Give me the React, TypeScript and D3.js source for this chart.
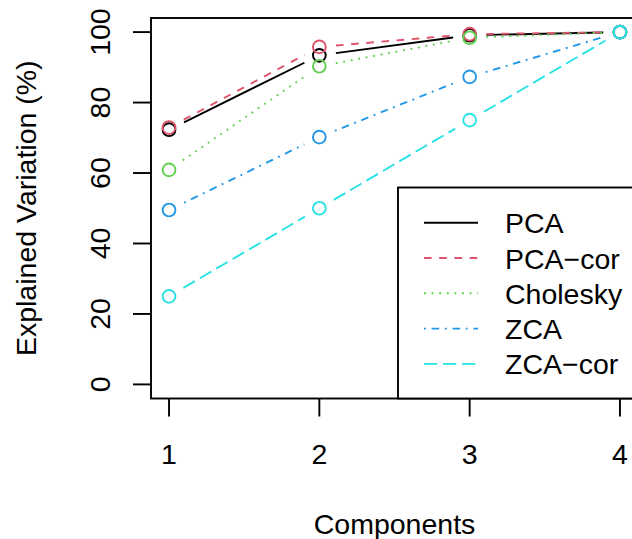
import * as d3 from 'd3';

const components = [1, 2, 3, 4];
const seriesNames = ['PCA', 'PCA−cor', 'Cholesky', 'ZCA', 'ZCA−cor'];
const pcaValues = [72.3, 93.4, 99.1, 100];
const pcaCorValues = [72.9, 95.8, 99.4, 100];
const choleskyValues = [60.9, 90.3, 98.4, 100];
const zcaValues = [49.5, 70.2, 87.3, 100];
const zcaCorValues = [25, 50, 75, 100];
const yTicks = [0, 20, 40, 60, 80, 100];

const COLORS = ['#000000', '#DF536B', '#61D04F', '#2297E6', '#28E2E5'];
const U = 1.9; // R line-width scale
const DASHES = [
  'none',
  `${4 * U},${4 * U}`,
  `${1 * U},${3 * U}`,
  `${1 * U},${3 * U},${4 * U},${3 * U}`,
  `${7 * U},${3 * U}`,
];

const W = 632, H = 539;
const FONT = '"Liberation Sans", Arial, Helvetica, sans-serif';
const FS = 28.5;

export default function App() {
  const series = [pcaValues, pcaCorValues, choleskyValues, zcaValues, zcaCorValues];

  const x = d3.scaleLinear().domain([0.88, 4.12]).range([151, 638]);
  const y = d3.scaleLinear().domain([-4, 104]).range([398.5, 18]);

  // type="b": leave a gap round each point
  const gap = 16.7;
  const segs = (vals: number[]) => {
    const out: { x1: number; y1: number; x2: number; y2: number }[] = [];
    for (let i = 0; i < vals.length - 1; i++) {
      const ax = x(components[i]), ay = y(vals[i]);
      const bx = x(components[i + 1]), by = y(vals[i + 1]);
      const len = Math.hypot(bx - ax, by - ay);
      if (len <= 2 * gap) continue;
      const ux = (bx - ax) / len, uy = (by - ay) / len;
      out.push({ x1: ax + ux * gap, y1: ay + uy * gap, x2: bx - ux * gap, y2: by - uy * gap });
    }
    return out;
  };

  const legLeft = 398, legTop = 187.5, legBottom = 398.5;
  const rowY = (i: number) => 222.7 + i * 35.3;
  const midY = (y(-4) + y(104)) / 2;

  return (
    <svg width={W} height={H} viewBox={`0 0 ${W} ${H}`}
      style={{ position: 'absolute', left: 0, top: 0, background: '#fff' }}
      fontFamily={FONT}>
      {/* series */}
      {series.map((vals, si) => (
        <g key={si}>
          {segs(vals).map((s, i) => (
            <line key={i} x1={s.x1} y1={s.y1} x2={s.x2} y2={s.y2}
              stroke={COLORS[si]} strokeWidth={U}
              strokeDasharray={DASHES[si]} />
          ))}
          {vals.map((v, i) => (
            <circle key={i} cx={x(components[i])} cy={y(v)} r={6.4}
              fill="none" stroke={COLORS[si]} strokeWidth={U} />
          ))}
        </g>
      ))}

      {/* plot box */}
      <rect x={x(0.88)} y={y(104)} width={x(4.12) - x(0.88)} height={y(-4) - y(104)}
        fill="none" stroke="#000" strokeWidth={U} />

      {/* x axis */}
      {components.map(c => (
        <g key={c}>
          <line x1={x(c)} x2={x(c)} y1={y(-4)} y2={y(-4) + 18} stroke="#000" strokeWidth={U} />
          <text x={x(c)} y={463.5} textAnchor="middle" fontSize={FS}>{c}</text>
        </g>
      ))}
      <text x={x(2.5)} y={533.7} textAnchor="middle" fontSize={FS}>Components</text>

      {/* y axis */}
      {yTicks.map(t => (
        <g key={t}>
          <line x1={x(0.88) - 18} x2={x(0.88)} y1={y(t)} y2={y(t)} stroke="#000" strokeWidth={U} />
          <text x={110} y={y(t)} textAnchor="middle" fontSize={FS}
            transform={`rotate(-90, 110, ${y(t)})`}>{t}</text>
        </g>
      ))}
      <text x={36} y={midY} textAnchor="middle" fontSize={FS}
        transform={`rotate(-90, 36, ${midY})`}>Explained Variation (%)</text>

      {/* legend */}
      <rect x={legLeft} y={legTop} width={W + 20 - legLeft} height={legBottom - legTop}
        fill="#fff" stroke="#000" strokeWidth={U} />
      {seriesNames.map((name, i) => (
        <g key={name}>
          <line x1={424} x2={478} y1={rowY(i)} y2={rowY(i)}
            stroke={COLORS[i]} strokeWidth={U} strokeDasharray={DASHES[i]} />
          <text x={505} y={rowY(i) + 10.5} fontSize={FS}>{name}</text>
        </g>
      ))}
    </svg>
  );
}
